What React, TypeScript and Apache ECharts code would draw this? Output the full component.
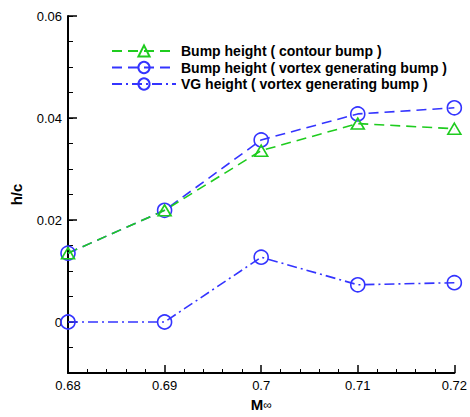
import React, { useEffect, useRef } from "react";
import * as echarts from "echarts";

const machNumbers = [0.68, 0.69, 0.7, 0.71, 0.72];
const bumpContour = [0.0135, 0.0219, 0.0336, 0.0389, 0.0379];
const bumpVortex = [0.0135, 0.0219, 0.0357, 0.0408, 0.042];
const vgHeight = [0, 0, 0.0127, 0.0073, 0.0077];
const yMajorTicks = [0, 0.02, 0.04, 0.06];

const GREEN = "#1fcc1f";
const BLUE = "#3434ff";

export default function App() {
  const ref = useRef<HTMLDivElement>(null);
  useEffect(() => {
    if (!ref.current) return;
    const chart = echarts.init(ref.current, null, { renderer: "svg" });
    const font = "Liberation Sans, Arial, sans-serif";
    const pair = (arr: number[]) => machNumbers.map((m, i) => [m, arr[i]]);
    chart.setOption({
      animation: false,
      backgroundColor: "#fff",
      textStyle: { fontFamily: font },
      grid: { left: 68, right: 15, top: 16, bottom: 37 },
      legend: {
        orient: "vertical",
        left: 106,
        top: 39,
        itemWidth: 64,
        itemHeight: 14,
        itemGap: 2.5,
        textStyle: { fontFamily: font, fontWeight: "bold", fontSize: 14, color: "#000" },
        data: [
          "Bump height ( contour bump )",
          "Bump height ( vortex generating bump )",
          "VG height ( vortex generating bump )",
        ],
      },
      xAxis: {
        type: "value",
        min: 0.68,
        max: 0.72,
        interval: 0.01,
        name: "{b|M}{s|∞}",
        nameLocation: "middle",
        nameGap: 24,
        nameTextStyle: {
          rich: {
            b: { fontFamily: font, fontWeight: "bold", fontSize: 15, color: "#000" },
            s: { fontFamily: font, fontSize: 12, color: "#000" },
          },
        },
        axisLine: { onZero: false, lineStyle: { color: "#000", width: 2 } },
        axisTick: { inside: true, length: 8, lineStyle: { color: "#000", width: 1.5 } },
        minorTick: { show: true, splitNumber: 5, length: 4, lineStyle: { color: "#000", width: 1 } },
        axisLabel: {
          color: "#000",
          fontSize: 13,
          margin: 6,
          formatter: (v: number) => String(parseFloat(v.toFixed(3))),
        },
        splitLine: { show: false },
      },
      yAxis: [
        {
          type: "value",
          min: -0.01,
          max: 0.06,
          interval: 0.005,
          position: "left",
          axisLine: { onZero: false, lineStyle: { color: "#000", width: 2 } },
          axisTick: { inside: true, length: 5, lineStyle: { color: "#000", width: 1 } },
          axisLabel: { show: false },
          splitLine: { show: false },
        },
        {
          type: "value",
          min: -0.01,
          max: 0.06,
          position: "left",
          name: "h/c",
          nameLocation: "middle",
          nameGap: 44,
          nameRotate: 90,
          nameTextStyle: { fontFamily: font, fontWeight: "bold", fontSize: 15, color: "#000" },
          axisLine: { show: false },
          axisTick: {
            inside: true,
            length: 9,
            customValues: yMajorTicks,
            lineStyle: { color: "#000", width: 1.5 },
          },
          axisLabel: {
            color: "#000",
            fontSize: 13,
            margin: 6,
            customValues: yMajorTicks,
            formatter: (v: number) => String(parseFloat(v.toFixed(3))),
          },
          splitLine: { show: false },
        },
      ],
      series: [
        {
          name: "Bump height ( vortex generating bump )",
          type: "line",
          data: pair(bumpVortex),
          symbol: "circle",
          symbolSize: 14,
          lineStyle: { color: BLUE, width: 1.6, type: [10, 6] },
          itemStyle: { color: "transparent", borderColor: BLUE, borderWidth: 1.6 },
        },
        {
          name: "Bump height ( contour bump )",
          type: "line",
          data: pair(bumpContour),
          symbol: "triangle",
          symbolSize: [13, 11],
          lineStyle: { color: GREEN, width: 1.6, type: [10, 6] },
          itemStyle: { color: "transparent", borderColor: GREEN, borderWidth: 1.6 },
        },
        {
          name: "VG height ( vortex generating bump )",
          type: "line",
          data: pair(vgHeight),
          symbol: "circle",
          symbolSize: 14,
          lineStyle: { color: BLUE, width: 1.6, type: [10, 4, 2, 4] },
          itemStyle: { color: "transparent", borderColor: BLUE, borderWidth: 1.6 },
        },
      ],
    });
    return () => chart.dispose();
  }, []);
  return <div ref={ref} style={{ width: 470, height: 417, position: "absolute", left: 0, top: 0 }} />;
}
